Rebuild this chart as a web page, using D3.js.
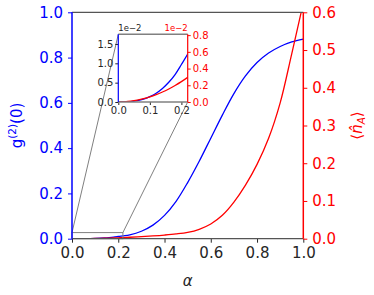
<!DOCTYPE html>
<html><head><meta charset="utf-8">
<script src="https://cdn.jsdelivr.net/npm/d3@7/dist/d3.min.js"></script>
<style>html,body{margin:0;padding:0;background:#fff;}svg{display:block;font-family:"DejaVu Sans",sans-serif;}</style>
</head><body><svg id="c" width="374" height="295"></svg>
<script>
// ---- data ----
const alpha = [0,0.02,0.04,0.06,0.08,0.10,0.12,0.14,0.16,0.18,0.20,0.22,0.25,0.30,0.35,0.40,0.45,0.50,0.55,0.60,0.65,0.70,0.75,0.80,0.85,0.90,0.95,1.00];
const g2 = [0,0.000015,0.000105,0.00033,0.00073,0.00140,0.00228,0.0035,0.0051,0.0071,0.0097,0.0124,0.017,0.033,0.060,0.103,0.165,0.248,0.342,0.444,0.546,0.641,0.719,0.778,0.820,0.849,0.869,0.882];
const nA = [0,0.000024,0.000098,0.00022,0.00039,0.00061,0.00088,0.0012,0.00156,0.00198,0.00244,0.00295,0.0038,0.0055,0.0074,0.0097,0.0126,0.0168,0.025,0.039,0.062,0.097,0.142,0.197,0.266,0.36,0.49,0.625];
const xTicks = [0,0.2,0.4,0.6,0.8,1.0];
const yLeftTicks = [0,0.2,0.4,0.6,0.8,1.0];
const yRightTicks = [0,0.1,0.2,0.3,0.4,0.5,0.6];
const insetXTicks = [0,0.1,0.2];
const insetYLeftTicks = [0,0.005,0.010,0.015];
const insetYRightTicks = [0,0.002,0.004,0.006,0.008];
const insetXDomain = [0,0.22];
const insetYLeftDomain = [0,0.0175];
const insetYRightDomain = [0,0.0081];
const zoomBoxTop = 0.027;

// ---- layout ----
const svg = d3.select("#c");
const M = {l:72, r:303.3, t:12.3, b:238.7};
const I = {l:118.3, r:187.7, t:34.3, b:102};
const x = d3.scaleLinear().domain([0,1]).range([M.l,M.r]);
const yL = d3.scaleLinear().domain([0,1]).range([M.b,M.t]);
const yR = d3.scaleLinear().domain([0,0.6]).range([M.b,M.t]);
const ix = d3.scaleLinear().domain(insetXDomain).range([I.l,I.r]);
const iyL = d3.scaleLinear().domain(insetYLeftDomain).range([I.b,I.t]);
const iyR = d3.scaleLinear().domain(insetYRightDomain).range([I.b,I.t]);
const BLUE="#0000ff", RED="#ff0000", GRAY="#808080", DARK="#262626";
const data = alpha.map((a,i)=>({a, g:g2[i], n:nA[i]}));
const curve = d3.curveCatmullRom.alpha(0.5);

const defs = svg.append("defs");
defs.append("clipPath").attr("id","mc").append("rect").attr("x",M.l).attr("y",M.t).attr("width",M.r-M.l).attr("height",M.b-M.t);
defs.append("clipPath").attr("id","ic").append("rect").attr("x",I.l).attr("y",I.t).attr("width",I.r-I.l).attr("height",I.b-I.t);

// main curves
const main = svg.append("g").attr("clip-path","url(#mc)");
main.append("path").datum(data).attr("fill","none").attr("stroke",BLUE).attr("stroke-width",1.3)
  .attr("d", d3.line().x(d=>x(d.a)).y(d=>yL(d.g)).curve(curve));
main.append("path").datum(data).attr("fill","none").attr("stroke",RED).attr("stroke-width",1.3)
  .attr("d", d3.line().x(d=>x(d.a)).y(d=>yR(d.n)).curve(curve));

// zoom box + connectors
svg.append("rect").attr("x",x(insetXDomain[0])).attr("y",yL(zoomBoxTop))
  .attr("width",x(insetXDomain[1])-x(insetXDomain[0])).attr("height",yL(0)-yL(zoomBoxTop))
  .attr("fill","none").attr("stroke",GRAY).attr("stroke-width",1);
svg.append("line").attr("x1",I.l).attr("y1",I.t).attr("x2",x(insetXDomain[0])).attr("y2",yL(zoomBoxTop)).attr("stroke",GRAY).attr("stroke-width",1);
svg.append("line").attr("x1",I.r).attr("y1",I.b).attr("x2",x(insetXDomain[1])).attr("y2",yL(zoomBoxTop)).attr("stroke",GRAY).attr("stroke-width",1);

// main axes
function styleAxis(g, color, textColor, fs){
  g.select(".domain").remove();
  g.selectAll(".tick line").attr("stroke",color).attr("stroke-width",1);
  g.selectAll(".tick text").attr("fill",textColor).style("font-size",fs+"px").style("font-family","DejaVu Sans");
}
const fmt1 = d3.format(".1f");
svg.append("g").attr("transform",`translate(0,${M.b})`)
  .call(d3.axisBottom(x).tickValues(xTicks).tickFormat(fmt1).tickSize(4).tickPadding(5))
  .call(g=>styleAxis(g,DARK,DARK,15));
svg.append("g").attr("transform",`translate(${M.l},0)`)
  .call(d3.axisLeft(yL).tickValues(yLeftTicks).tickFormat(fmt1).tickSize(4).tickPadding(5))
  .call(g=>styleAxis(g,BLUE,BLUE,15));
svg.append("g").attr("transform",`translate(${M.r},0)`)
  .call(d3.axisRight(yR).tickValues(yRightTicks).tickFormat(fmt1).tickSize(4).tickPadding(5))
  .call(g=>styleAxis(g,RED,RED,15));
// spines
svg.append("line").attr("x1",M.l).attr("x2",M.r).attr("y1",M.t).attr("y2",M.t).attr("stroke","#555").attr("stroke-width",1.2);
svg.append("line").attr("x1",M.l).attr("x2",M.r).attr("y1",M.b).attr("y2",M.b).attr("stroke","#555").attr("stroke-width",1.2);
svg.append("line").attr("x1",M.l).attr("x2",M.l).attr("y1",M.t).attr("y2",M.b).attr("stroke",BLUE).attr("stroke-width",1.5);
svg.append("line").attr("x1",M.r).attr("x2",M.r).attr("y1",M.t).attr("y2",M.b).attr("stroke",RED).attr("stroke-width",1.5);

// labels
svg.append("text").attr("x",(M.l+M.r)/2).attr("y",286).attr("text-anchor","middle")
  .attr("fill",DARK).style("font-size","15px").style("font-style","italic").text("α");
const ylab = svg.append("text").attr("transform",`translate(22,${(M.t+M.b)/2}) rotate(-90)`).attr("text-anchor","middle")
  .attr("fill",BLUE).style("font-size","15px");
ylab.append("tspan").text("g");
ylab.append("tspan").attr("dy",-6).style("font-size","10.5px").text("(2)");
ylab.append("tspan").attr("dy",6).text("(0)");
const rlab = svg.append("text").attr("transform",`translate(362,${(M.t+M.b)/2}) rotate(-90)`).attr("text-anchor","middle")
  .attr("fill",RED).style("font-size","15px");
rlab.append("tspan").text("⟨");
rlab.append("tspan").style("font-style","italic").text("n\u0302");
rlab.append("tspan").attr("dy",3).style("font-size","10.5px").style("font-style","italic").text("A");
rlab.append("tspan").attr("dy",-3).text("⟩");

// inset
svg.append("rect").attr("x",I.l).attr("y",I.t).attr("width",I.r-I.l).attr("height",I.b-I.t).attr("fill","#fff");
const ins = svg.append("g").attr("clip-path","url(#ic)");
ins.append("path").datum(data).attr("fill","none").attr("stroke",BLUE).attr("stroke-width",1.3)
  .attr("d", d3.line().x(d=>ix(d.a)).y(d=>iyL(d.g)).curve(curve));
ins.append("path").datum(data).attr("fill","none").attr("stroke",RED).attr("stroke-width",1.3)
  .attr("d", d3.line().x(d=>ix(d.a)).y(d=>iyR(d.n)).curve(curve));
const fmtE = v=>fmt1(v*100);
svg.append("g").attr("transform",`translate(0,${I.b})`)
  .call(d3.axisBottom(ix).tickValues(insetXTicks).tickFormat(fmt1).tickSize(3).tickPadding(2))
  .call(g=>styleAxis(g,DARK,DARK,10));
svg.append("g").attr("transform",`translate(${I.l},0)`)
  .call(d3.axisLeft(iyL).tickValues(insetYLeftTicks).tickFormat(fmtE).tickSize(3).tickPadding(2))
  .call(g=>styleAxis(g,DARK,DARK,10));
svg.append("g").attr("transform",`translate(${I.r},0)`)
  .call(d3.axisRight(iyR).tickValues(insetYRightTicks).tickFormat(fmtE).tickSize(3).tickPadding(2))
  .call(g=>styleAxis(g,RED,RED,10));
svg.append("line").attr("x1",I.l).attr("x2",I.r).attr("y1",I.t).attr("y2",I.t).attr("stroke",GRAY).attr("stroke-width",1.5);
svg.append("line").attr("x1",I.l).attr("x2",I.r).attr("y1",I.b).attr("y2",I.b).attr("stroke",GRAY).attr("stroke-width",1.5);
svg.append("line").attr("x1",I.l).attr("x2",I.l).attr("y1",I.t).attr("y2",I.b).attr("stroke",BLUE).attr("stroke-width",1.2);
svg.append("line").attr("x1",I.r).attr("x2",I.r).attr("y1",I.t).attr("y2",I.b).attr("stroke",RED).attr("stroke-width",1.2);
svg.append("text").attr("x",I.l).attr("y",I.t-3).attr("fill",DARK).style("font-size","8.5px").text("1e\u22122");
svg.append("text").attr("x",I.r).attr("y",I.t-3).attr("text-anchor","end").attr("fill",RED).style("font-size","8.5px").text("1e\u22122");
</script></body></html>
